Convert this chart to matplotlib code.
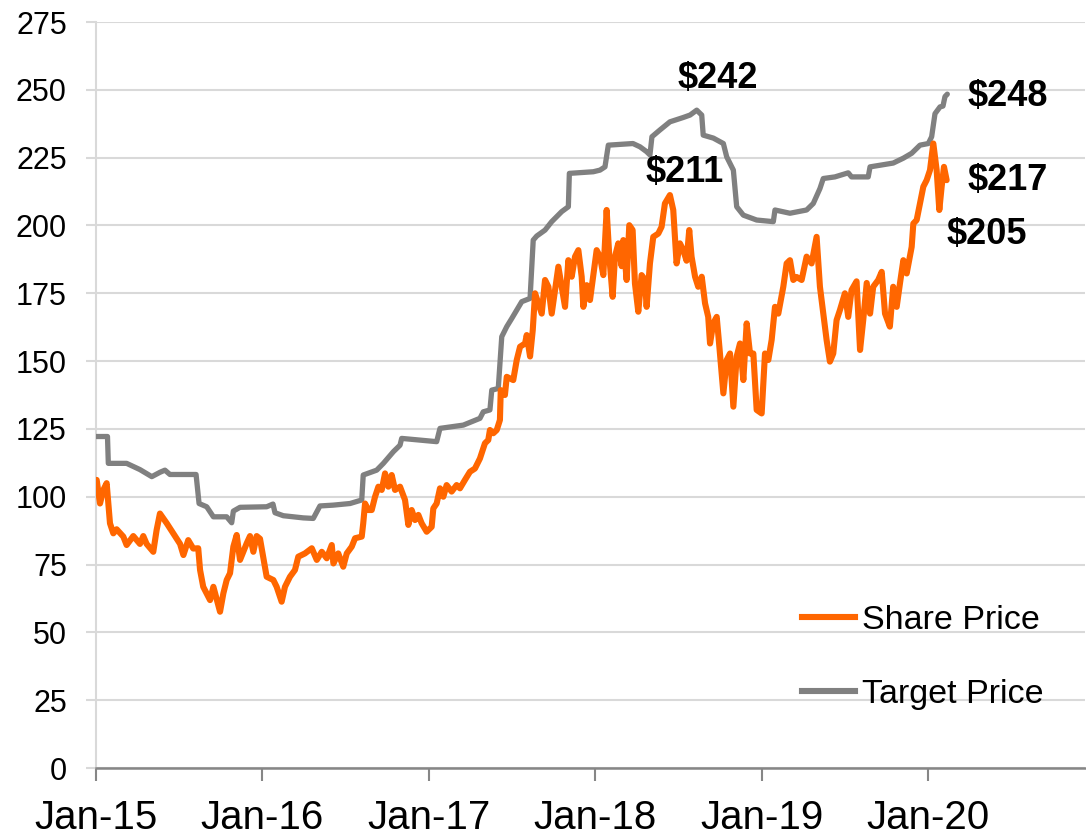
import matplotlib
matplotlib.use("Agg")
import matplotlib.pyplot as plt
from matplotlib.lines import Line2D

plt.rcParams['font.family'] = ['Liberation Sans', 'DejaVu Sans']

# ---- Data (decimal years, USD) ----
share_t = [2015.004, 2015.024, 2015.044, 2015.064, 2015.084, 2015.104, 2015.124, 2015.164, 2015.184,
           2015.224, 2015.264, 2015.284, 2015.304, 2015.344, 2015.364, 2015.384, 2015.425, 2015.464,
           2015.505, 2015.525, 2015.554, 2015.584, 2015.614, 2015.625, 2015.644, 2015.685, 2015.705,
           2015.745, 2015.765, 2015.785, 2015.805, 2015.825, 2015.845, 2015.865, 2015.905, 2015.925,
           2015.945, 2015.965, 2015.985, 2016.025, 2016.065, 2016.085, 2016.115, 2016.135, 2016.165,
           2016.195, 2016.215, 2016.255, 2016.296, 2016.326, 2016.356, 2016.386, 2016.416, 2016.426,
           2016.455, 2016.485, 2016.506, 2016.536, 2016.556, 2016.596, 2016.605, 2016.616, 2016.635,
           2016.656, 2016.676, 2016.696, 2016.716, 2016.736, 2016.756, 2016.776, 2016.796, 2016.826,
           2016.856, 2016.876, 2016.896, 2016.916, 2016.936, 2016.956, 2016.986, 2017.016, 2017.026,
           2017.046, 2017.066, 2017.086, 2017.106, 2017.136, 2017.166, 2017.186, 2017.216, 2017.246,
           2017.276, 2017.306, 2017.336, 2017.356, 2017.366, 2017.386, 2017.407, 2017.426, 2017.431,
           2017.456, 2017.467, 2017.506, 2017.527, 2017.547, 2017.577, 2017.587, 2017.607, 2017.623,
           2017.637, 2017.657, 2017.677, 2017.697, 2017.717, 2017.737, 2017.757, 2017.777, 2017.797,
           2017.817, 2017.837, 2017.857, 2017.877, 2017.897, 2017.917, 2017.927, 2017.947, 2017.967,
           2018.007, 2018.027, 2018.047, 2018.067, 2018.083, 2018.103, 2018.117, 2018.137, 2018.157,
           2018.167, 2018.187, 2018.203, 2018.223, 2018.237, 2018.257, 2018.277, 2018.297, 2018.307,
           2018.327, 2018.347, 2018.377, 2018.397, 2018.417, 2018.447, 2018.467, 2018.487, 2018.507,
           2018.527, 2018.547, 2018.563, 2018.577, 2018.598, 2018.617, 2018.638, 2018.658, 2018.677,
           2018.688, 2018.707, 2018.728, 2018.744, 2018.768, 2018.788, 2018.808, 2018.828, 2018.848,
           2018.868, 2018.888, 2018.908, 2018.928, 2018.948, 2018.968, 2018.998, 2019.018, 2019.038,
           2019.058, 2019.078, 2019.098, 2019.128, 2019.148, 2019.168, 2019.188, 2019.208, 2019.238,
           2019.268, 2019.298, 2019.328, 2019.348, 2019.368, 2019.388, 2019.408, 2019.428, 2019.448,
           2019.468, 2019.498, 2019.518, 2019.538, 2019.568, 2019.589, 2019.608, 2019.629, 2019.649,
           2019.668, 2019.698, 2019.719, 2019.739, 2019.768, 2019.788, 2019.809, 2019.829, 2019.849,
           2019.869, 2019.899, 2019.909, 2019.929, 2019.949, 2019.969, 2019.989, 2020.009, 2020.029,
           2020.049, 2020.065, 2020.079, 2020.093, 2020.109]
share_price = [106.2, 97.5, 102.5, 105.0, 90.2, 86.5, 88.0, 85.3, 82.2,
               85.5, 82.6, 85.5, 82.6, 79.7, 87.7, 93.8, 90.2, 86.5,
               82.6, 78.5, 84.0, 80.9, 81.0, 73.0, 66.8, 61.9, 66.8,
               57.6, 64.4, 69.3, 71.8, 81.6, 85.9, 76.7, 82.8, 85.5,
               79.7, 85.5, 84.5, 70.5, 69.3, 66.8, 61.3, 66.8, 70.5,
               73.0, 77.9, 79.1, 81.0, 76.7, 79.7, 77.3, 82.2, 75.4,
               79.1, 74.2, 79.1, 81.6, 84.7, 85.3, 90.2, 97.5, 95.1,
               95.1, 100.0, 103.7, 102.5, 108.6, 103.7, 108.0, 102.5, 103.7,
               98.8, 89.6, 95.1, 91.4, 93.3, 90.2, 87.1, 88.9, 95.7,
               97.5, 103.1, 100.0, 104.3, 101.9, 104.3, 103.1, 106.2, 109.2,
               110.4, 114.1, 119.7, 120.9, 124.6, 123.4, 124.6, 128.3, 139.3,
               137.5, 144.2, 143.0, 150.4, 155.3, 156.5, 159.6, 151.7, 161.3,
               175.0, 171.3, 167.5, 179.9, 177.4, 167.5, 176.2, 184.8, 177.4,
               170.0, 187.2, 181.1, 188.5, 190.9, 181.1, 170.0, 178.0, 172.5,
               190.9, 188.5, 181.7, 205.7, 188.5, 173.7, 188.5, 193.4, 185.0,
               194.6, 179.9, 200.1, 198.3, 178.6, 168.2, 181.7, 180.0, 170.0,
               186.0, 195.8, 197.0, 199.5, 208.1, 211.2, 205.7, 186.0, 193.4,
               190.9, 187.0, 198.3, 188.5, 181.1, 177.4, 181.1, 171.3, 166.3,
               156.5, 163.9, 166.3, 155.3, 138.1, 150.4, 152.8, 133.2, 151.7,
               156.5, 143.0, 163.9, 152.8, 152.8, 132.0, 130.7, 152.8, 150.4,
               157.8, 170.0, 167.5, 177.4, 186.0, 187.2, 179.9, 181.0, 179.9,
               188.5, 186.0, 195.8, 177.4, 167.5, 157.8, 149.8, 152.8, 165.1,
               168.8, 175.0, 166.3, 176.2, 179.4, 154.1, 165.1, 178.8, 167.5,
               177.4, 179.9, 182.9, 167.5, 162.7, 177.4, 170.0, 178.8, 187.2,
               182.3, 192.1, 200.7, 202.0, 208.1, 214.3, 216.7, 220.4, 230.2,
               220.4, 205.7, 214.3, 221.6, 216.7]

target_t = [2015.000, 2015.069, 2015.074, 2015.184, 2015.264, 2015.335, 2015.384, 2015.414, 2015.444,
            2015.601, 2015.619, 2015.665, 2015.705, 2015.785, 2015.815, 2015.825, 2015.865, 2016.025,
            2016.063, 2016.075, 2016.125, 2016.245, 2016.305, 2016.345, 2016.425, 2016.526, 2016.596,
            2016.605, 2016.686, 2016.726, 2016.786, 2016.826, 2016.836, 2017.046, 2017.066, 2017.206,
            2017.306, 2017.326, 2017.366, 2017.377, 2017.416, 2017.437, 2017.467, 2017.497, 2017.527,
            2017.557, 2017.607, 2017.626, 2017.647, 2017.697, 2017.737, 2017.797, 2017.837, 2017.843,
            2017.987, 2018.027, 2018.057, 2018.077, 2018.225, 2018.267, 2018.307, 2018.327, 2018.339,
            2018.387, 2018.447, 2018.527, 2018.568, 2018.608, 2018.638, 2018.647, 2018.708, 2018.768,
            2018.788, 2018.828, 2018.848, 2018.888, 2018.968, 2019.068, 2019.078, 2019.168, 2019.268,
            2019.308, 2019.348, 2019.368, 2019.438, 2019.518, 2019.538, 2019.638, 2019.649, 2019.709,
            2019.788, 2019.849, 2019.899, 2019.949, 2019.999, 2020.019, 2020.039, 2020.069, 2020.087,
            2020.099, 2020.113]
target_price = [122.2, 122.2, 112.3, 112.3, 110.0, 107.4, 109.0, 109.8, 108.2,
                108.2, 97.5, 96.3, 92.6, 92.6, 90.4, 94.7, 96.1, 96.3,
                97.3, 94.1, 93.0, 92.2, 92.0, 96.6, 96.9, 97.5, 98.8,
                108.0, 109.8, 112.3, 116.6, 119.0, 121.5, 120.3, 125.2, 126.4,
                128.9, 131.3, 132.0, 139.3, 139.9, 159.0, 162.7, 165.7, 168.8,
                171.9, 173.1, 194.6, 196.1, 198.3, 201.4, 205.1, 206.9, 219.2,
                219.8, 220.4, 221.6, 229.6, 230.2, 229.0, 227.2, 226.0, 232.7,
                235.2, 238.2, 239.8, 240.7, 242.5, 240.7, 233.3, 232.2, 230.2,
                225.3, 220.4, 206.9, 203.8, 202.0, 201.4, 205.7, 204.5, 205.7,
                208.1, 213.6, 217.3, 217.9, 219.4, 217.9, 217.9, 221.6, 222.2,
                223.0, 224.8, 226.6, 229.6, 230.2, 232.7, 241.2, 243.7, 244.0,
                247.5, 248.4]

year_ticks = [2015, 2016, 2017, 2018, 2019, 2020]
year_labels = ['Jan-15', 'Jan-16', 'Jan-17', 'Jan-18', 'Jan-19', 'Jan-20']
y_ticks = list(range(0, 276, 25))

ann_text = ['$242', '$211', '$248', '$217', '$205']
ann_t = [2018.495, 2018.303, 2020.237, 2020.237, 2020.111]
ann_v = [254.0, 219.7, 247.7, 216.4, 196.6]

ORANGE = '#FF6600'
GRAY = '#808080'

fig = plt.figure(figsize=(10.86, 8.36), dpi=100)
ax = fig.add_axes([96/1086, 68/836, 989/1086, 746/836])

ax.plot(target_t, target_price, color=GRAY, lw=3.8, solid_joinstyle='round', solid_capstyle='round', zorder=3)
ax.plot(share_t, share_price, color=ORANGE, lw=4.4, solid_joinstyle='round', solid_capstyle='round', zorder=4)

ax.set_xlim(2015.0, 2020.94)
ax.set_ylim(0, 275)
ax.set_yticks(y_ticks)
ax.set_xticks(year_ticks)
ax.set_xticklabels(year_labels)

ax.grid(axis='y', color='#d9d9d9', lw=1.5)
ax.set_axisbelow(True)
for s in ['top', 'right']:
    ax.spines[s].set_visible(False)
ax.spines['left'].set_color('#d9d9d9')
ax.spines['left'].set_linewidth(1.5)
ax.spines['bottom'].set_color('#868686')
ax.spines['bottom'].set_linewidth(1.8)
ax.spines['bottom'].set_zorder(5)

ax.tick_params(axis='y', length=7, width=1.5, color='#d9d9d9', labelsize=22, pad=14)
ax.tick_params(axis='x', length=9, width=1.5, color='#868686', labelsize=29, pad=13)

for txt, t, v in zip(ann_text, ann_t, ann_v):
    ax.text(t, v, txt, fontsize=26, fontweight='bold', ha='left', va='center', zorder=6)

handles = [Line2D([], [], color=ORANGE, lw=4.4), Line2D([], [], color=GRAY, lw=4.4)]
ax.legend(handles, ['Share Price', 'Target Price'], loc='upper left',
          bbox_to_anchor=(706/989, (768-605)/746), frameon=False, fontsize=24.5,
          handlelength=1.55, handletextpad=0.2, labelspacing=1.25, borderaxespad=0,
          borderpad=0)

fig.savefig('out.png', dpi=100)
